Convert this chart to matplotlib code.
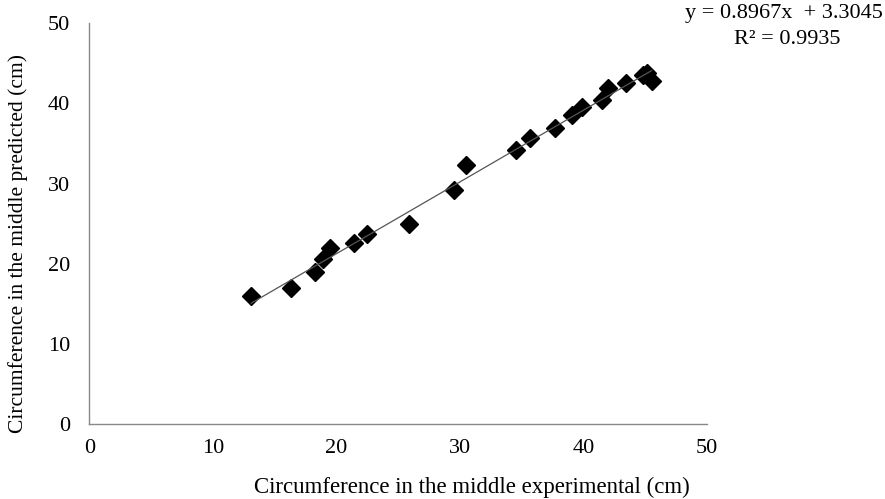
import matplotlib
matplotlib.use("Agg")
import matplotlib.pyplot as plt
import numpy as np

# measured vs predicted circumference at the middle (cm)
experimental = [13.1, 16.3, 18.3, 18.9, 19.5, 21.4, 22.5, 25.9, 29.5, 30.5,
                34.5, 35.7, 37.7, 39.1, 39.9, 41.5, 42.0, 43.4, 44.8, 45.1, 45.5]
predicted = [16.0, 16.9, 19.0, 20.6, 22.0, 22.6, 23.7, 25.0, 29.2, 32.3,
             34.2, 35.7, 37.0, 38.5, 39.6, 40.4, 41.9, 42.6, 43.5, 43.8, 42.8]

slope, intercept = 0.8967, 3.3045
r_squared = 0.9935

plt.rcParams['font.family'] = ['Liberation Serif', 'DejaVu Serif']

fig = plt.figure(figsize=(8.85, 4.99), dpi=100)
ax = fig.add_axes([0.101, 0.151, 0.698, 0.802])

ax.plot(experimental, predicted, linestyle='none', marker='D', markersize=9,
        color='black')

# linear trend line
xs = np.array([min(experimental), max(experimental)])
ax.plot(xs, slope * xs + intercept, color='#555555', linewidth=0.9)

ax.set_xlim(0, 50)
ax.set_ylim(0, 50)
ax.set_xticks(range(0, 51, 10))
ax.set_yticks(range(0, 51, 10))
ax.tick_params(length=0, labelsize=16)
ax.tick_params(axis='x', pad=11)
ax.tick_params(axis='y', pad=14)

for side in ('top', 'right'):
    ax.spines[side].set_visible(False)
for side in ('left', 'bottom'):
    ax.spines[side].set_color('#888888')
    ax.spines[side].set_linewidth(1)

ax.set_xlabel('Circumference in the middle experimental (cm)', fontsize=16.5)
ax.set_ylabel('Circumference in the middle predicted (cm)', fontsize=15.5)
ax.xaxis.set_label_coords(0.619, -0.134)
ax.yaxis.set_label_coords(-0.1, 0.451)

fig.text(0.886, 0.972, f'y = {slope}x  + {intercept}', ha='center', va='center',
         fontsize=16)
fig.text(0.889, 0.92, f'R² = {r_squared}', ha='center', va='center', fontsize=16)

fig.savefig('out.png', dpi=100)
